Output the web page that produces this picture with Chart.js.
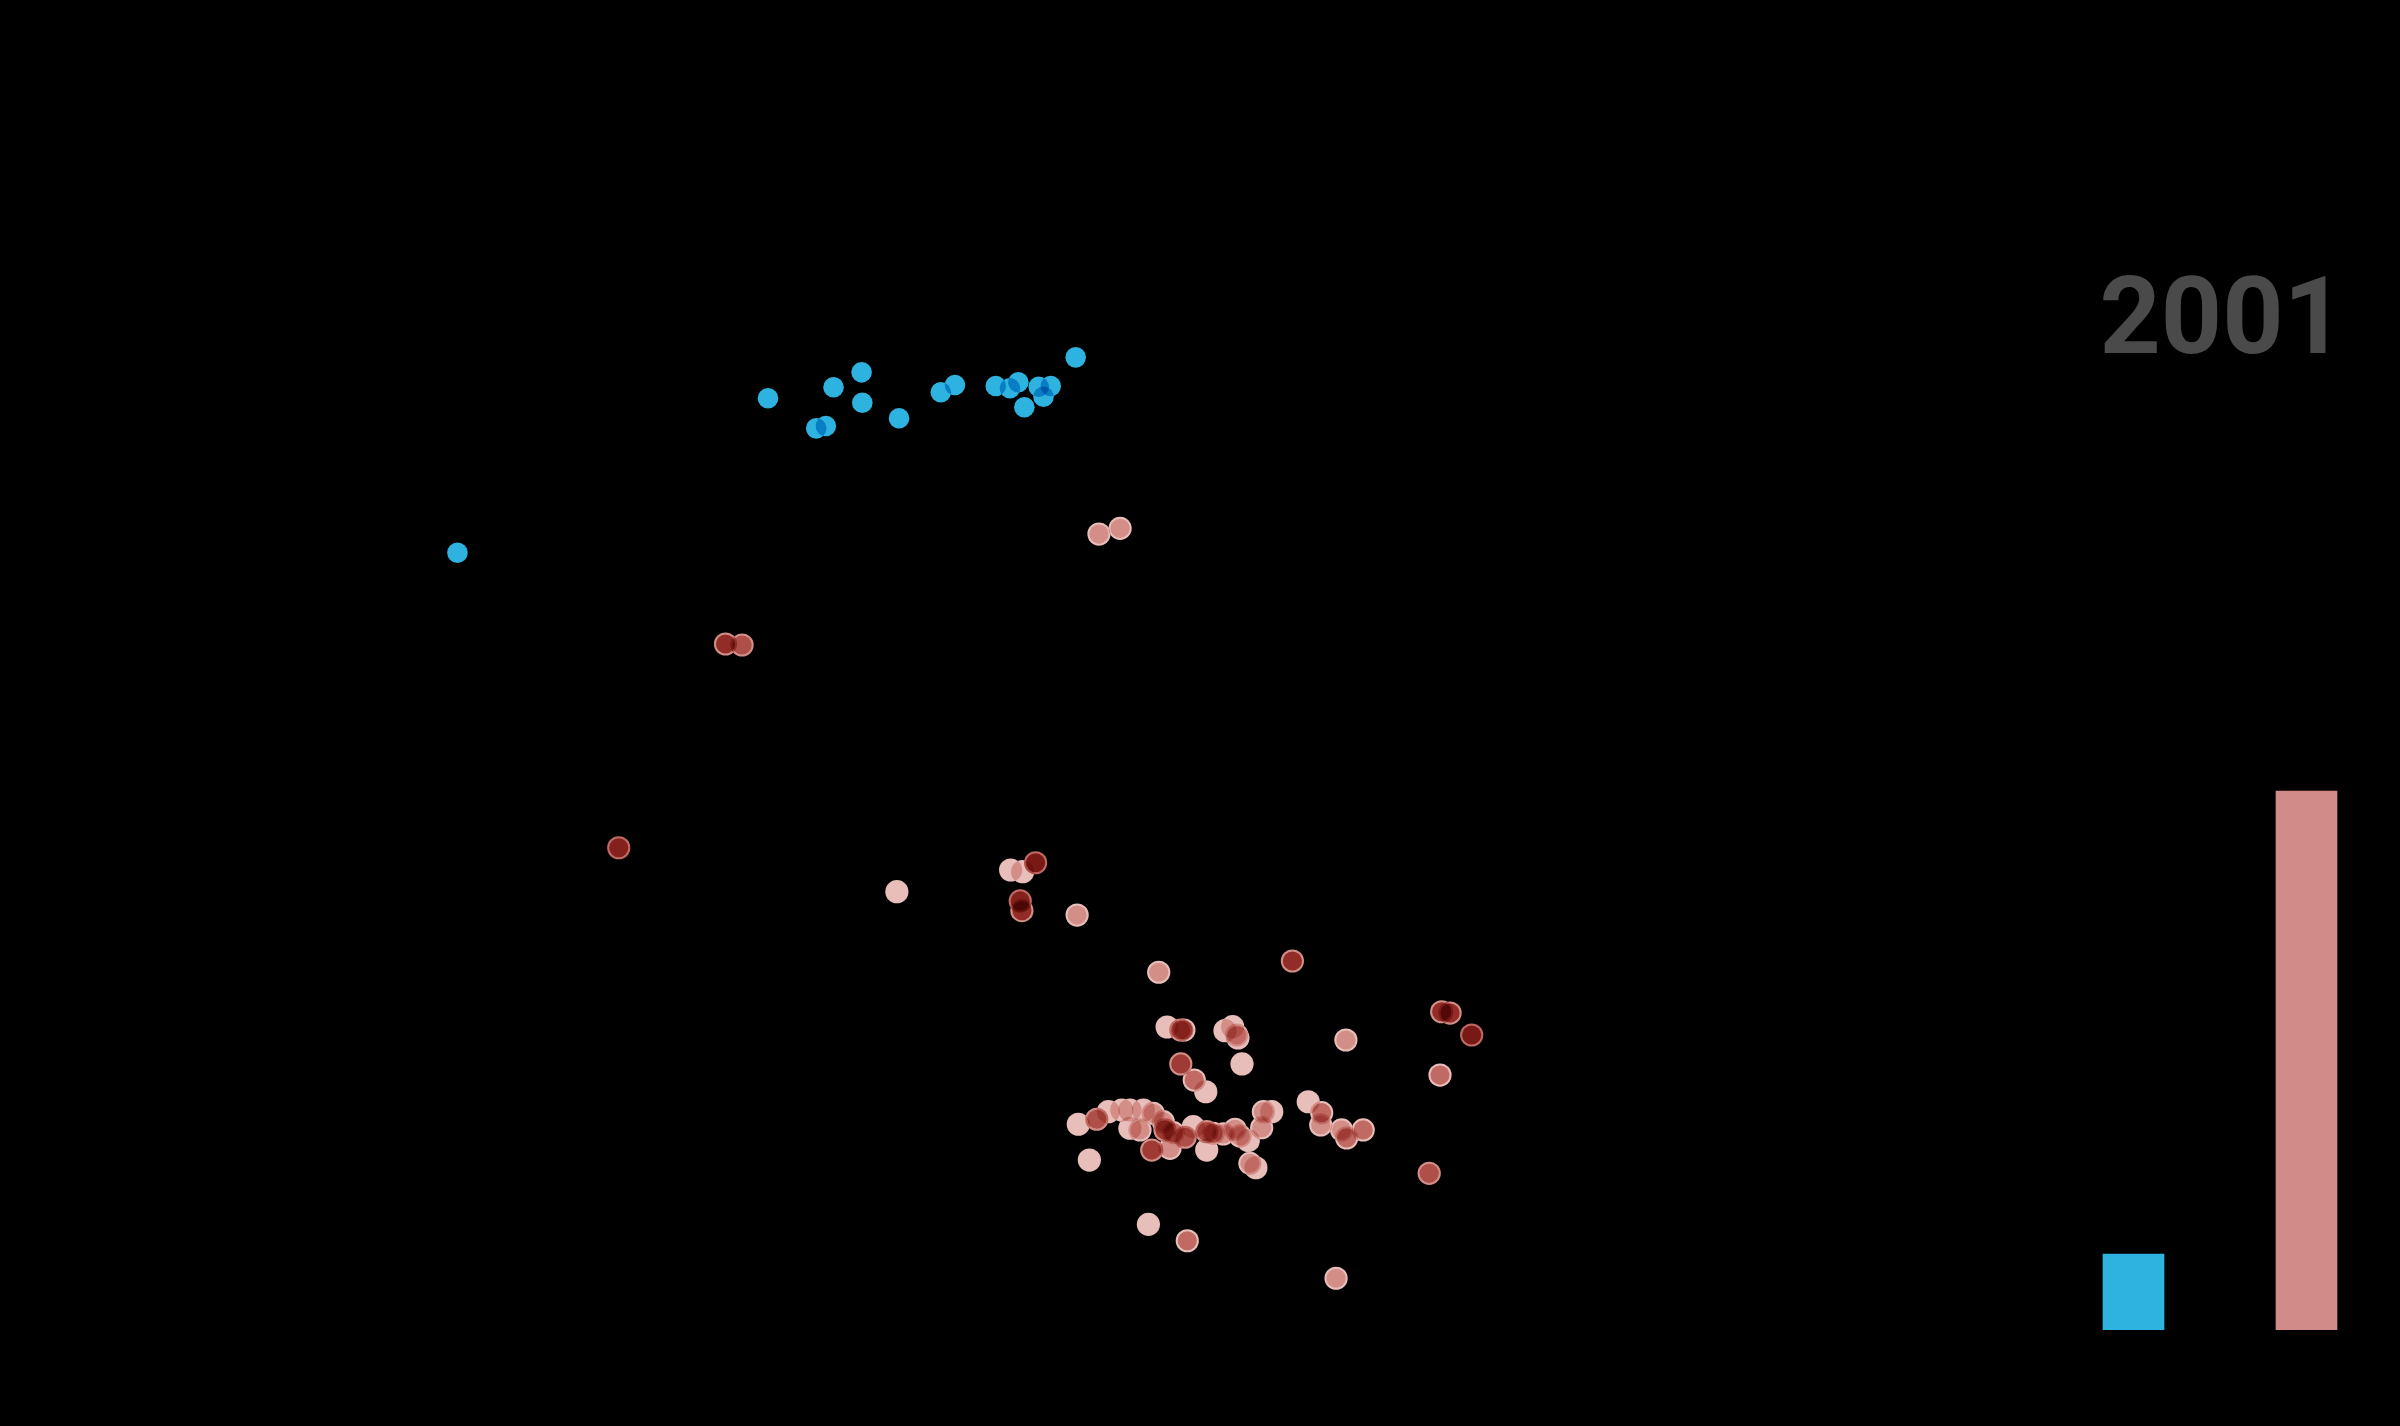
<!DOCTYPE html>
<html>
<head>
<meta charset="utf-8">
<script src="https://cdn.jsdelivr.net/npm/chart.js@4/dist/chart.umd.min.js"></script>
<style>
  html, body { margin: 0; padding: 0; background: #000; width: 2400px; height: 1426px; overflow: hidden; }
  #scatter { position: absolute; left: 0; top: 0; }
  #bars { position: absolute; left: 2047px; top: 332px; }
  #year { position: absolute; right: 55px; top: 263px; font-family: Roboto, "Noto Sans", sans-serif; font-weight: 700; font-size: 107px; line-height: 107px; color: #4a4a4a; }
</style>
</head>
<body>
<canvas id="scatter" width="2400" height="1426"></canvas>
<canvas id="bars" width="346" height="998"></canvas>
<div id="year">2001</div>
<script>
// ---- data ----
const yearLabel = "2001";

// blue group: [x, y]
const blueX = [19.06, 32.00, 34.73, 35.90, 35.93, 34.01, 34.41, 37.46, 39.20, 39.79, 41.49, 42.08, 42.43, 42.68, 43.28, 43.78, 43.48, 44.82];
const blueY = [61.24, 72.07, 72.84, 73.89, 71.76, 69.96, 70.13, 70.67, 72.49, 73.00, 72.93, 72.77, 73.19, 71.44, 72.88, 72.93, 72.18, 74.94];

// red group: x, y and number of stacked observations at that spot
const redX = [45.79, 46.67, 30.23, 30.92, 25.78, 37.37, 42.11, 42.61, 43.15, 42.51, 42.58, 44.88,
  48.28, 53.85, 48.63, 49.20, 49.33, 51.04, 51.36, 51.53, 51.58, 56.08,
  60.07, 60.42, 61.32, 49.20, 51.75, 49.76, 50.24, 60.00,
  54.51, 55.07, 55.03, 55.90, 56.11, 56.80, 52.64, 52.99, 52.57, 52.08, 52.33, 59.55, 45.39, 47.85, 49.47, 55.67,
  44.93, 45.70, 46.18, 46.74, 47.08, 47.64, 48.05, 48.47, 48.54, 48.89, 49.38, 49.72, 47.08, 47.50, 47.99, 48.75,
  50.28, 50.55, 50.28, 50.97, 51.46, 51.67, 52.01];
const redY = [62.55, 62.95, 54.84, 54.77, 40.55, 37.47, 38.99, 38.87, 39.50, 36.82, 36.14, 35.83,
  31.82, 32.61, 27.98, 27.77, 27.77, 27.72, 28.00, 27.42, 27.21, 27.07,
  29.05, 28.96, 27.42, 25.39, 25.39, 24.26, 23.44, 24.61,
  22.74, 21.97, 21.11, 20.76, 20.20, 20.76, 22.04, 22.04, 20.92, 18.42, 18.11, 17.72, 18.65, 14.14, 12.99, 10.36,
  21.16, 21.51, 22.04, 22.16, 22.16, 22.16, 21.93, 21.34, 20.76, 20.57, 20.25, 20.99, 20.88, 20.76, 19.35, 19.47,
  20.64, 20.53, 19.35, 20.48, 20.81, 20.34, 20.01];
const redCount = [2, 2, 6, 4, 7, 1, 1, 1, 8, 7, 6, 2,
  2, 6, 1, 4, 3, 1, 1, 2, 1, 2,
  6, 6, 8, 5, 1, 3, 1, 3,
  1, 3, 2, 2, 3, 3, 2, 1, 2, 2, 1, 4, 1, 1, 3, 2,
  1, 4, 1, 1, 1, 1, 2, 2, 5, 3, 4, 1, 1, 2, 5, 2,
  4, 3, 1, 2, 2, 2, 1];

// bar totals
const barLabels = ["blue", "red"];
const barValues = [19, 135];

// ---- styles ----
const BLUE = [46, 179, 224];
const PINK = [232, 190, 186];
function stacked(base, n) {
  const c = base.map(v => Math.round(255 * Math.pow(v / 255, n)));
  return `rgb(${c[0]},${c[1]},${c[2]})`;
}
const haloLayers = n => (n > 1 ? Math.ceil(n / 3) : 1);

const multiplyPlugin = {
  id: 'multiply',
  beforeDatasetsDraw(chart) { chart.ctx.save(); chart.ctx.globalCompositeOperation = 'multiply'; },
  afterDatasetsDraw(chart) { chart.ctx.restore(); }
};

const redPoints = redX.map((x, i) => ({ x, y: redY[i] }));

new Chart(document.getElementById('scatter'), {
  type: 'scatter',
  data: {
    datasets: [
      {
        data: blueX.map((x, i) => ({ x, y: blueY[i] })),
        backgroundColor: stacked(BLUE, 1),
        borderWidth: 0,
        pointRadius: 10.3,
        order: 3
      },
      {
        // soft outer edge of each red spot
        data: redPoints,
        backgroundColor: redCount.map(n => stacked(PINK, haloLayers(n))),
        borderWidth: 0,
        pointRadius: 11.6,
        order: 2
      },
      {
        // denser core of each red spot
        data: redPoints,
        backgroundColor: redCount.map(n => stacked(PINK, n - haloLayers(n))),
        borderWidth: 0,
        pointRadius: 9.6,
        order: 1
      }
    ]
  },
  options: {
    responsive: false,
    animation: false,
    events: [],
    layout: { padding: 0, autoPadding: false },
    plugins: { legend: { display: false }, tooltip: { enabled: false } },
    scales: {
      x: { type: 'linear', display: false, min: 0, max: 100 },
      y: { type: 'linear', display: false, min: 0, max: 100 }
    }
  },
  plugins: [multiplyPlugin]
});

new Chart(document.getElementById('bars'), {
  type: 'bar',
  data: {
    labels: barLabels,
    datasets: [{
      data: barValues,
      backgroundColor: ['rgb(46,179,224)', 'rgb(209,140,137)'],
      borderWidth: 0,
      barThickness: 61
    }]
  },
  options: {
    responsive: false,
    animation: false,
    events: [],
    layout: { padding: 0, autoPadding: false },
    plugins: { legend: { display: false }, tooltip: { enabled: false } },
    scales: {
      x: { display: false },
      y: { display: false, min: 0, max: 250 }
    }
  }
});

document.getElementById('year').textContent = yearLabel;
</script>
</body>
</html>
